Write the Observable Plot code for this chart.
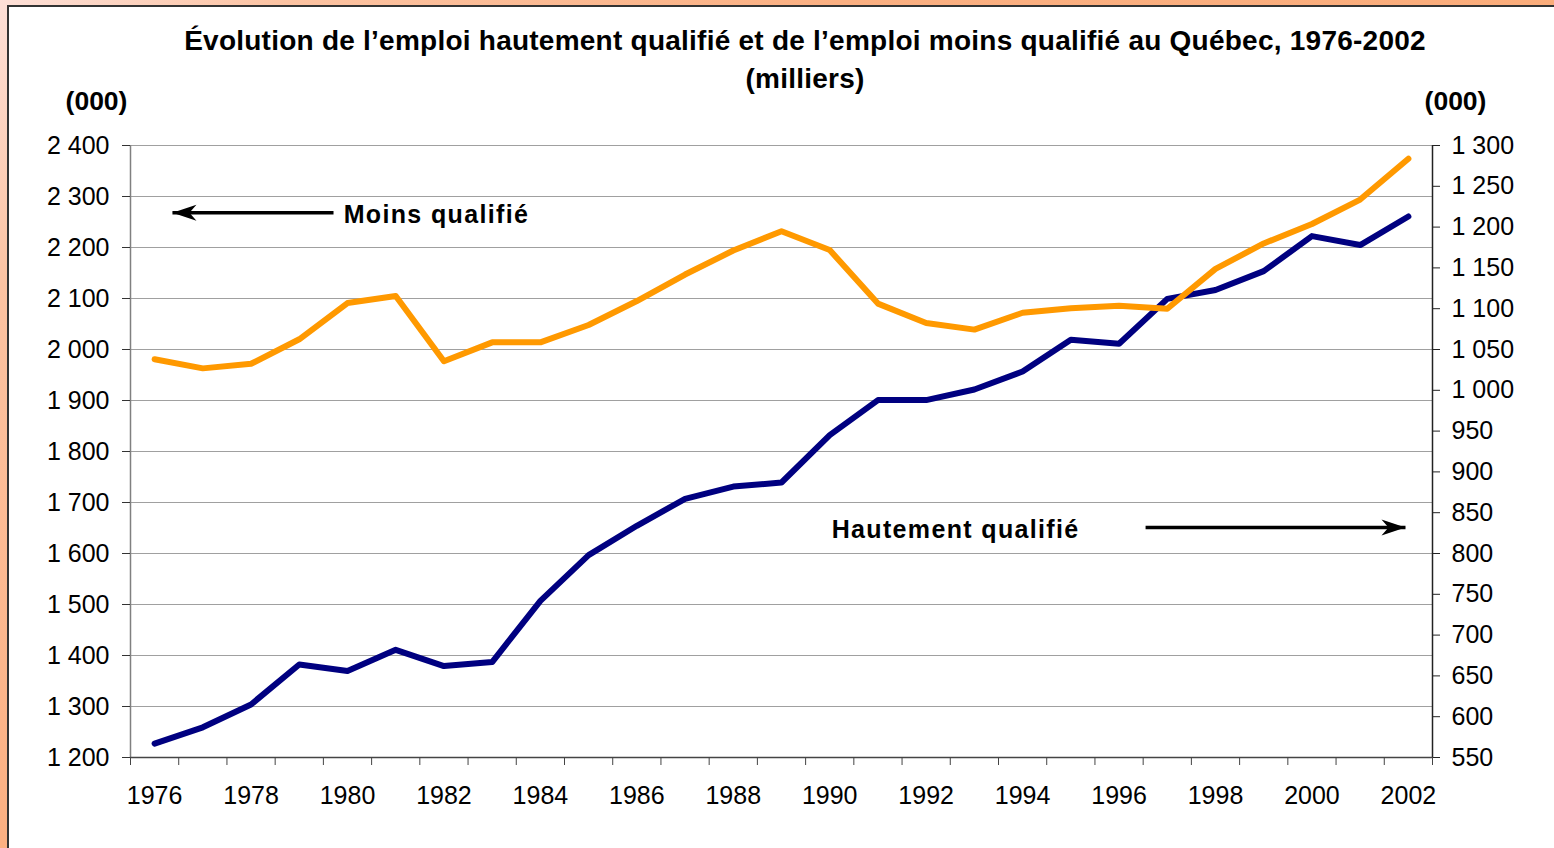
<!DOCTYPE html>
<html>
<head>
<meta charset="utf-8">
<script src="https://cdn.jsdelivr.net/npm/d3@7"></script>
<script src="https://cdn.jsdelivr.net/npm/@observablehq/plot@0.6"></script>
<style>
  html, body { margin: 0; padding: 0; width: 1554px; height: 848px; overflow: hidden; }
  body {
    background: linear-gradient(135deg, #fde0d8 0%, #fcc3a2 12%, #fbb082 35%, #f9a872 100%);
    font-family: "Liberation Sans", Arial, sans-serif;
  }
  #panel {
    position: absolute; left: 7px; top: 5px; width: 1600px; height: 900px;
    background: #fff; border: 2px solid #333; box-sizing: border-box;
  }
  #chart { position: absolute; left: 0; top: 0; width: 1554px; }
  #title {
    height: 92px; box-sizing: border-box; padding-top: 22px; padding-left: 56px;
    text-align: center; font-weight: bold; font-size: 28px; letter-spacing: 0.24px; line-height: 38px; color: #000;
  }
  #chart svg { display: block; }
</style>
</head>
<body>
<div id="panel"></div>
<div id="chart">
  <div id="title">Évolution de l’emploi hautement qualifié et de l’emploi moins qualifié au Québec, 1976-2002<br>(milliers)</div>
</div>
<script>
// ---- data (thousands) ----
const years = [1976,1977,1978,1979,1980,1981,1982,1983,1984,1985,1986,1987,1988,1989,1990,1991,1992,1993,1994,1995,1996,1997,1998,1999,2000,2001,2002];
const moinsQualifie = [1981,1963,1972,2020,2091,2105,1977,2014,2014,2048,2095,2147,2194,2232,2195,2090,2052,2039,2072,2081,2086,2080,2158,2208,2246,2294,2374];
const hautementQualifie = [567,587,615,664,656,682,662,667,742,798,834,867,882,887,945,988,988,1001,1023,1062,1057,1112,1123,1146,1189,1178,1213];
const leftTicks = [1200,1300,1400,1500,1600,1700,1800,1900,2000,2100,2200,2300,2400];
const rightTicks = [550,600,650,700,750,800,850,900,950,1000,1050,1100,1150,1200,1250,1300];
const xLabelYears = [1976,1978,1980,1982,1984,1986,1988,1990,1992,1994,1996,1998,2000,2002];
const annotations = [
  {label: "Moins qualifié", tx: 1979.92, ty: 2263, from: 1979.71, to: 1976.37, ay: 2268, dir: 180},
  {label: "Hautement qualifié", tx: 1990.04, ty: 1647, from: 1996.55, to: 2001.94, ay: 1651, dir: 0}
];

// ---- helpers ----
const leftDomain = [leftTicks[0], leftTicks[leftTicks.length - 1]];
const rightDomain = [rightTicks[0], rightTicks[rightTicks.length - 1]];
const toLeft = v => leftDomain[0] + (v - rightDomain[0]) * (leftDomain[1] - leftDomain[0]) / (rightDomain[1] - rightDomain[0]);
const fromLeft = v => rightDomain[0] + (v - leftDomain[0]) * (rightDomain[1] - rightDomain[0]) / (leftDomain[1] - leftDomain[0]);
const fmt = d => d3.format(",")(Math.round(d)).replace(/,/g, " ");

const table = years.map((year, i) => ({year, moins: moinsQualifie[i], haut: hautementQualifie[i]}));
const bounds = years.map(y => y - 0.5).concat([years[years.length - 1] + 0.5]);
const xDomain = [bounds[0], bounds[bounds.length - 1]];

// stealth arrowhead with its tip at the origin, pointing right
const stealth = {
  draw(ctx) {
    ctx.moveTo(0, 0);
    ctx.lineTo(-24, -8);
    ctx.lineTo(-17, 0);
    ctx.lineTo(-24, 8);
    ctx.closePath();
  }
};

const plot = Plot.plot({
  width: 1554,
  height: 756,
  marginLeft: 130,
  marginRight: 122,
  marginTop: 53,
  marginBottom: 91,
  style: {fontFamily: "'Liberation Sans', Arial, sans-serif", fontSize: "25px", background: "transparent", color: "#000", overflow: "visible"},
  x: {type: "linear", domain: xDomain, label: null},
  y: {domain: leftDomain, label: null},
  marks: [
    Plot.gridY(leftTicks, {stroke: "#a0a0a0", strokeOpacity: 1, strokeWidth: 1}),
    Plot.ruleX([xDomain[0]], {stroke: "#808080", strokeWidth: 1.5}),
    Plot.ruleX([xDomain[1]], {stroke: "#222", strokeWidth: 1.5}),
    Plot.ruleY([leftDomain[0]], {stroke: "#444", strokeWidth: 1.5}),
    Plot.axisY(leftTicks, {anchor: "left", tickSize: 8, tickPadding: 13, tickFormat: fmt, label: null, stroke: "#333", fontSize: 25}),
    Plot.axisY(rightTicks.map(toLeft), {anchor: "right", tickSize: 7, tickPadding: 12, tickFormat: d => fmt(fromLeft(d)), label: null, stroke: "#222", fontSize: 25}),
    Plot.axisX(bounds, {anchor: "bottom", tickSize: 8, tickFormat: () => "", label: null, stroke: "#444"}),
    Plot.axisX(xLabelYears, {anchor: "bottom", tickSize: 0, tickPadding: 29, tickFormat: d => String(d), label: null, fontSize: 25}),
    Plot.text(["(000)"], {frameAnchor: "top-left", textAnchor: "middle", lineAnchor: "middle", dx: -34, dy: -44, fontWeight: "bold", fontSize: 26.5}),
    Plot.text(["(000)"], {frameAnchor: "top-right", textAnchor: "middle", lineAnchor: "middle", dx: 23, dy: -44, fontWeight: "bold", fontSize: 26.5}),
    Plot.line(table, {x: "year", y: d => toLeft(d.haut), stroke: "#000080", strokeWidth: 6, strokeLinecap: "round", strokeLinejoin: "round"}),
    Plot.line(table, {x: "year", y: "moins", stroke: "#ff9900", strokeWidth: 6, strokeLinecap: "round", strokeLinejoin: "round"}),
    Plot.link(annotations, {x1: "from", x2: "to", y1: "ay", y2: "ay", stroke: "#000", strokeWidth: 3.5}),
    Plot.dot(annotations, {x: "to", y: "ay", symbol: stealth, rotate: "dir", fill: "#000", stroke: "none", r: 10}),
    Plot.text(annotations, {x: "tx", y: "ty", text: "label", textAnchor: "start", fontWeight: "bold", fontSize: 25})
  ]
});

const labels = annotations.map(a => a.label);
d3.select(plot).selectAll("text").filter(function() { return labels.includes(this.textContent); }).attr("letter-spacing", "1.35px");
document.getElementById("chart").appendChild(plot);
</script>
</body>
</html>
